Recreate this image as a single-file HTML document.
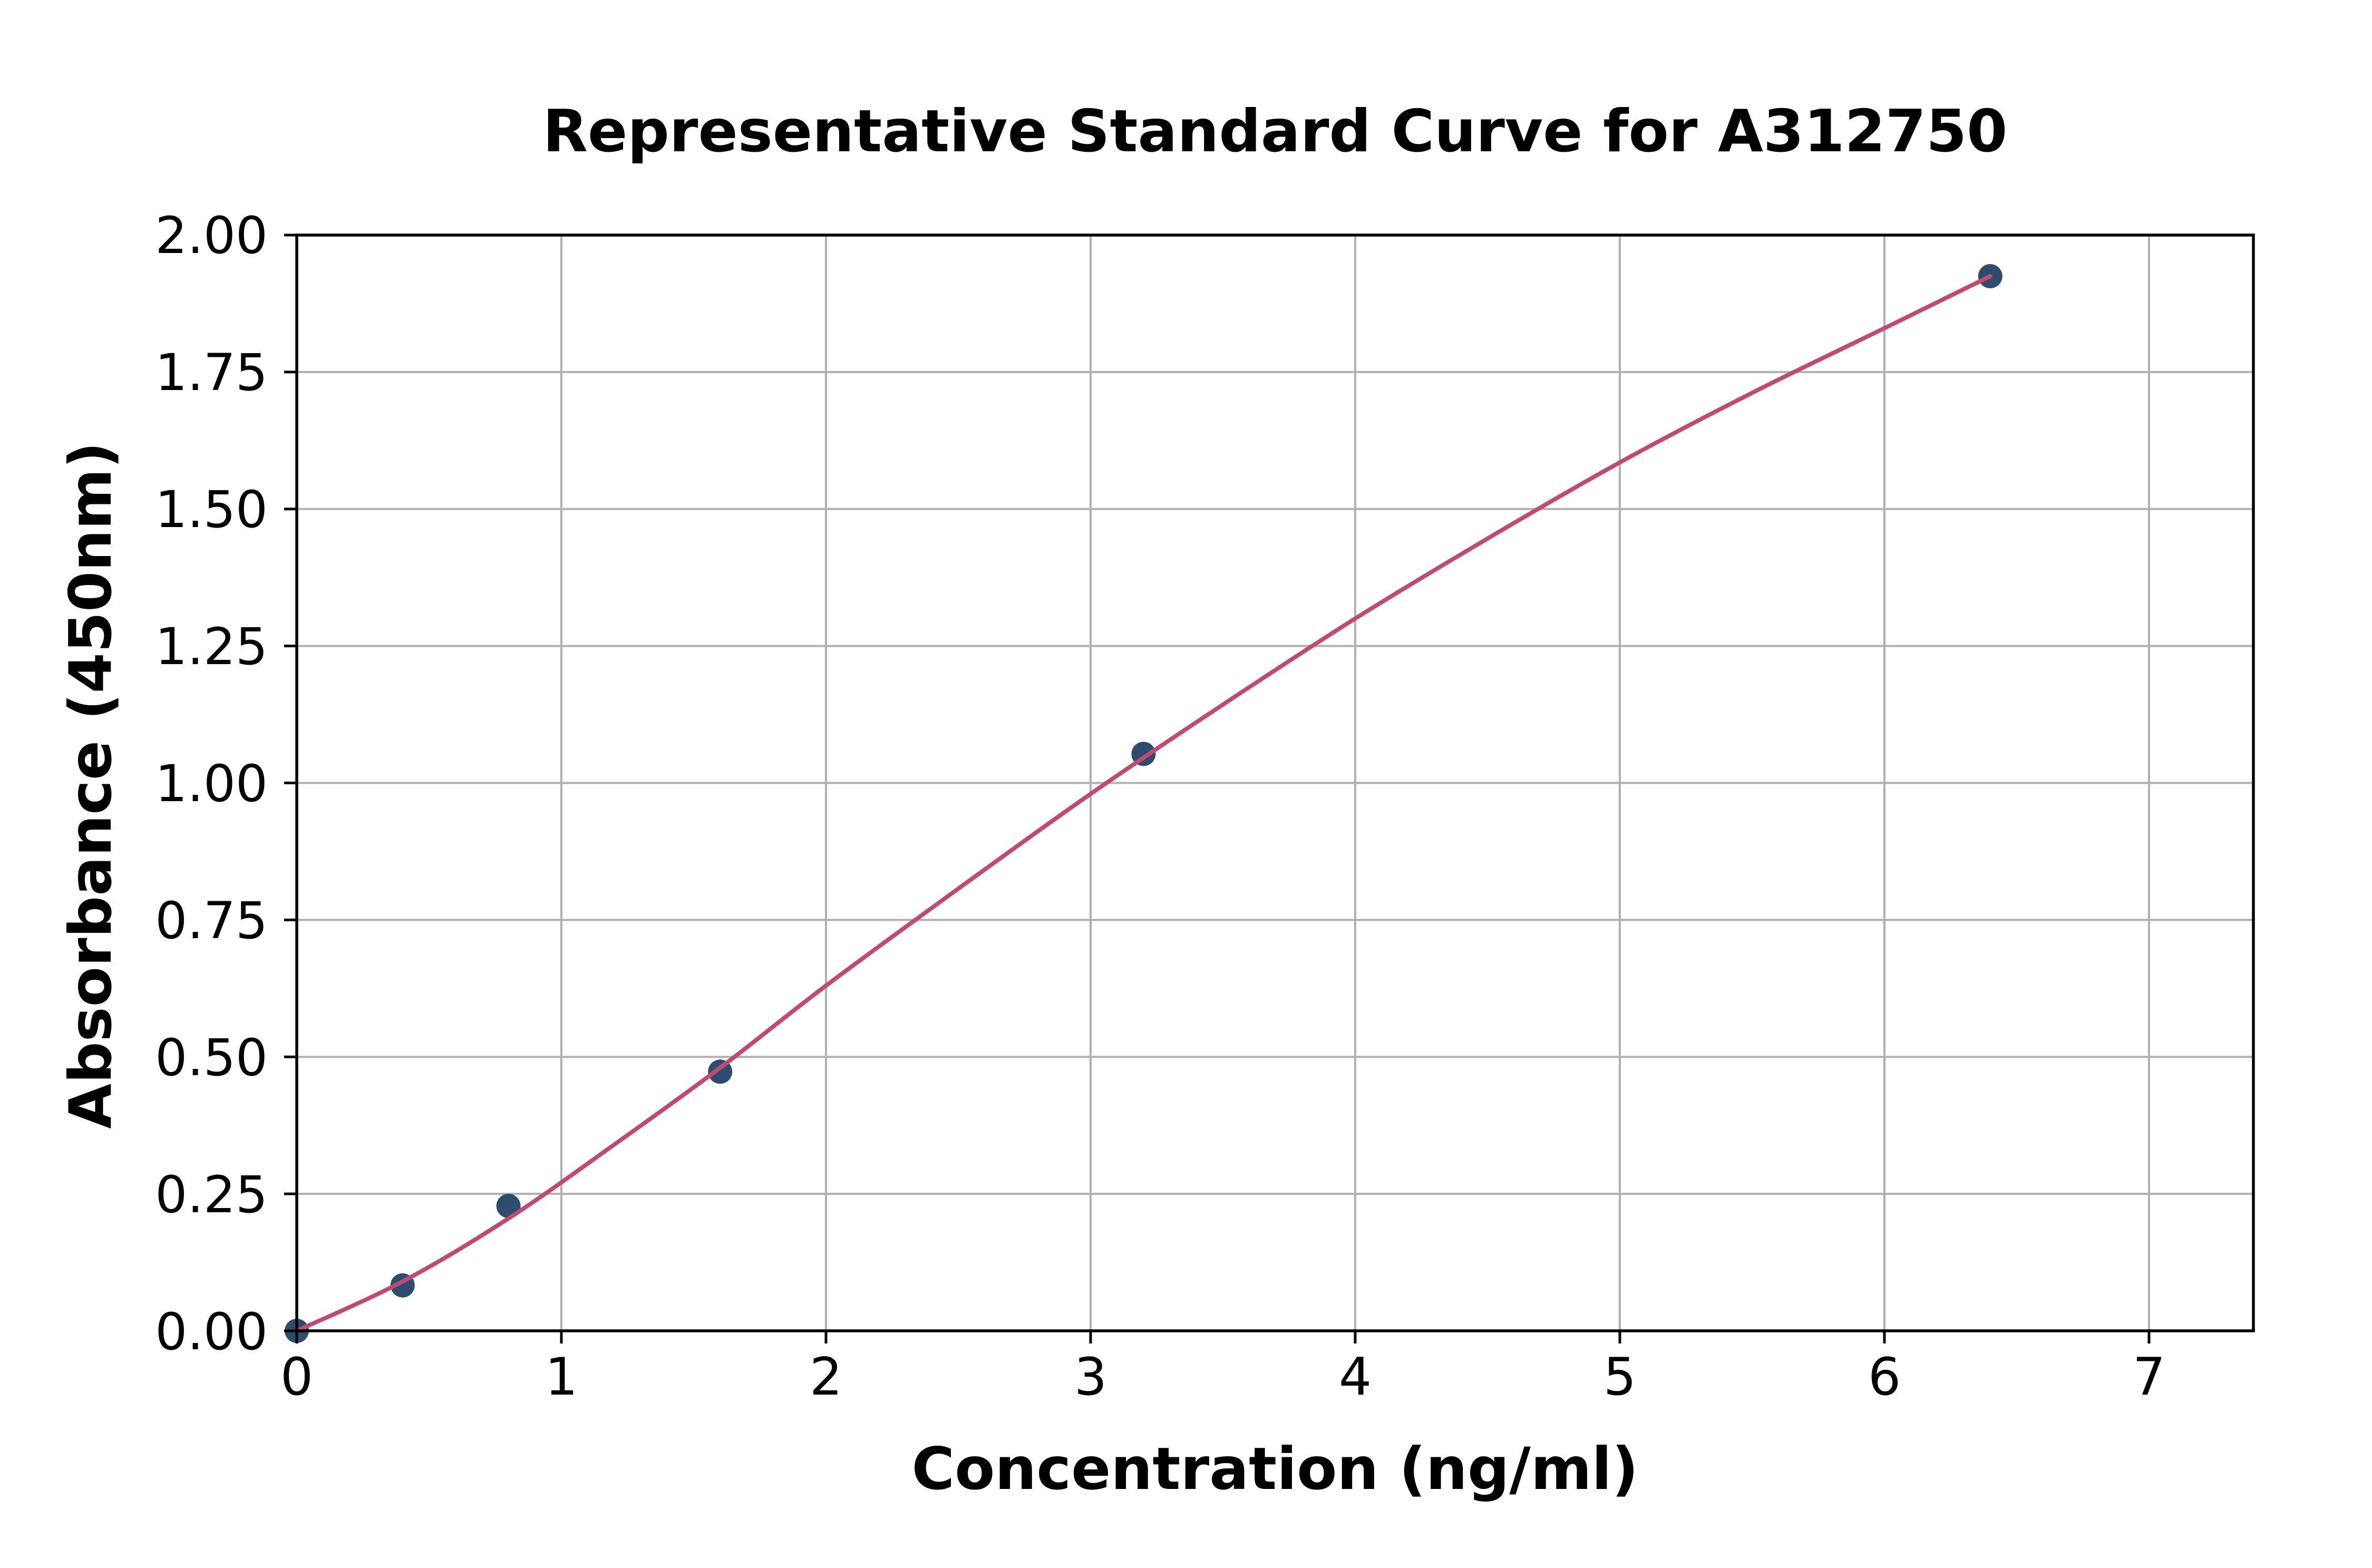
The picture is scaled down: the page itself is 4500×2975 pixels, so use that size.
<!DOCTYPE html>
<html><head><meta charset="utf-8"><style>html,body{margin:0;padding:0;background:#fff}</style></head>
<body>
<svg width="4500" height="2970" viewBox="0 0 4500 2970" xmlns="http://www.w3.org/2000/svg" font-family="'DejaVu Sans','Liberation Sans',sans-serif">
<rect width="4500" height="2970" fill="#fff"/>
<g stroke="#b0b0b0" stroke-width="4">
<line x1="1065" y1="446" x2="1065" y2="2525"/><line x1="1567" y1="446" x2="1567" y2="2525"/>
<line x1="2069" y1="446" x2="2069" y2="2525"/><line x1="2571" y1="446" x2="2571" y2="2525"/>
<line x1="3073" y1="446" x2="3073" y2="2525"/><line x1="3575" y1="446" x2="3575" y2="2525"/>
<line x1="4077" y1="446" x2="4077" y2="2525"/>
<line x1="563" y1="2265.1" x2="4275" y2="2265.1"/><line x1="563" y1="2005.3" x2="4275" y2="2005.3"/>
<line x1="563" y1="1745.4" x2="4275" y2="1745.4"/><line x1="563" y1="1485.5" x2="4275" y2="1485.5"/>
<line x1="563" y1="1225.6" x2="4275" y2="1225.6"/><line x1="563" y1="965.8" x2="4275" y2="965.8"/>
<line x1="563" y1="705.9" x2="4275" y2="705.9"/>
</g>
<g fill="#2e4d6e">
<circle cx="563" cy="2525" r="23"/><circle cx="763.8" cy="2438.7" r="23"/><circle cx="964.6" cy="2288" r="23"/>
<circle cx="1366.2" cy="2033.3" r="23"/><circle cx="2169.4" cy="1430.4" r="23"/><circle cx="3775.8" cy="524" r="23"/>
</g>
<path id="curve" fill="none" stroke="#c04a72" stroke-width="8" stroke-linejoin="round" stroke-linecap="round" d=""/>
<rect x="563" y="446" width="3712" height="2079" fill="none" stroke="#000" stroke-width="5.5"/>
<g stroke="#000" stroke-width="5">
<line x1="563" y1="2525" x2="563" y2="2549"/><line x1="1065" y1="2525" x2="1065" y2="2549"/>
<line x1="1567" y1="2525" x2="1567" y2="2549"/><line x1="2069" y1="2525" x2="2069" y2="2549"/>
<line x1="2571" y1="2525" x2="2571" y2="2549"/><line x1="3073" y1="2525" x2="3073" y2="2549"/>
<line x1="3575" y1="2525" x2="3575" y2="2549"/><line x1="4077" y1="2525" x2="4077" y2="2549"/>
<line x1="539" y1="2525" x2="563" y2="2525"/><line x1="539" y1="2265.1" x2="563" y2="2265.1"/>
<line x1="539" y1="2005.3" x2="563" y2="2005.3"/><line x1="539" y1="1745.4" x2="563" y2="1745.4"/>
<line x1="539" y1="1485.5" x2="563" y2="1485.5"/><line x1="539" y1="1225.6" x2="563" y2="1225.6"/>
<line x1="539" y1="965.8" x2="563" y2="965.8"/><line x1="539" y1="705.9" x2="563" y2="705.9"/>
<line x1="539" y1="446" x2="563" y2="446"/>
</g>
<g font-size="98" text-anchor="middle" fill="#000">
<text x="563" y="2646">0</text><text x="1065" y="2646">1</text><text x="1567" y="2646">2</text>
<text x="2069" y="2646">3</text><text x="2571" y="2646">4</text><text x="3073" y="2646">5</text>
<text x="3575" y="2646">6</text><text x="4077" y="2646">7</text>
</g>
<g font-size="96" text-anchor="end" fill="#000">
<text x="508" y="2560">0.00</text><text x="508" y="2300">0.25</text><text x="508" y="2040">0.50</text>
<text x="508" y="1780">0.75</text><text x="508" y="1520">1.00</text><text x="508" y="1260">1.25</text>
<text x="508" y="1000">1.50</text><text x="508" y="740">1.75</text><text x="508" y="480">2.00</text>
</g>
<text x="2419" y="287" font-size="111" font-weight="bold" text-anchor="middle">Representative Standard Curve for A312750</text>
<text x="2419" y="2825" font-size="111" font-weight="bold" text-anchor="middle">Concentration (ng/ml)</text>
<text transform="translate(210,1490) rotate(-90)" font-size="111" font-weight="bold" text-anchor="middle">Absorbance (450nm)</text>
</svg>
<script>
(function(){
var pts=[[0,0],[0.4,0.09],[0.8,0.205],[1.2,0.34],[1.6,0.48],[2,0.63],[2.5,0.807],[3,0.98],[3.5,1.143],[4,1.30],[4.5,1.446],[5,1.585],[5.5,1.712],[6,1.83],[6.4,1.925]];
var P=pts.map(function(p){return [563+502*p[0],2525-1039.5*p[1]];});
var d="M"+P[0][0]+","+P[0][1];
for(var i=0;i<P.length-1;i++){
var p0=P[Math.max(i-1,0)],p1=P[i],p2=P[i+1],p3=P[Math.min(i+2,P.length-1)];
var c1=[p1[0]+(p2[0]-p0[0])/6,p1[1]+(p2[1]-p0[1])/6];
var c2=[p2[0]-(p3[0]-p1[0])/6,p2[1]-(p3[1]-p1[1])/6];
d+=" C"+c1[0].toFixed(1)+","+c1[1].toFixed(1)+" "+c2[0].toFixed(1)+","+c2[1].toFixed(1)+" "+p2[0].toFixed(1)+","+p2[1].toFixed(1);
}
document.getElementById("curve").setAttribute("d",d);
})();
</script>
</body></html>
